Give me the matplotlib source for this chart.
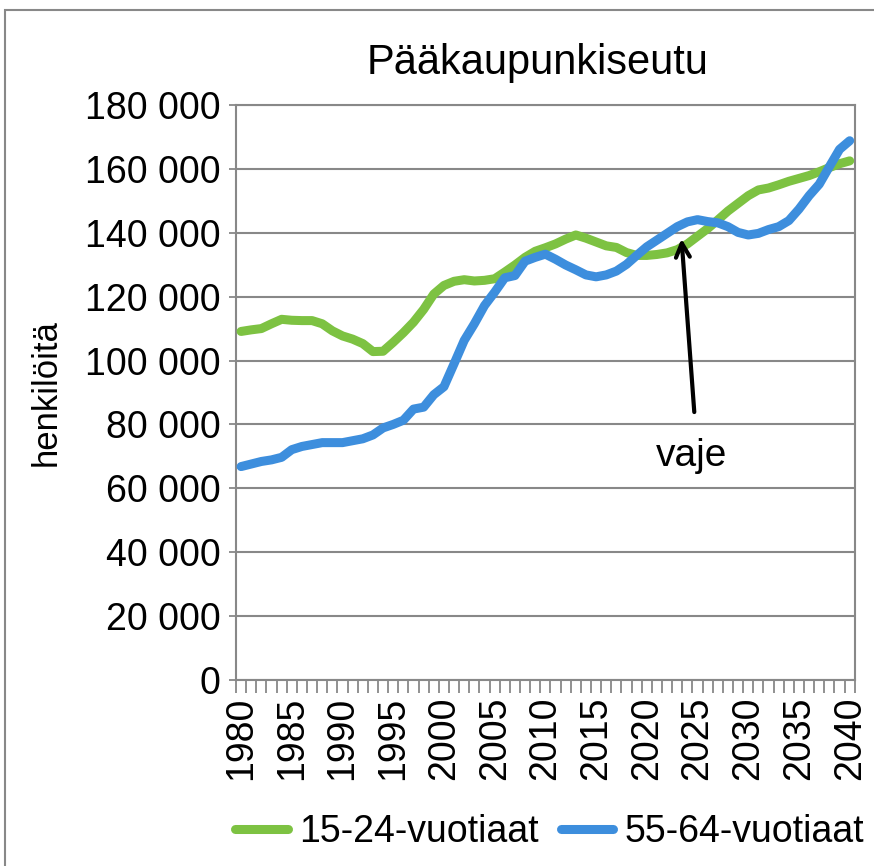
import matplotlib
matplotlib.use("Agg")
import matplotlib.pyplot as plt
from matplotlib.patches import Rectangle
from matplotlib.ticker import FuncFormatter, MultipleLocator

plt.rcParams['font.family'] = ['Liberation Sans', 'DejaVu Sans']

# Years 1980-2040
years = list(range(1980, 2041))

# 15-24-year-olds
young = [109100, 109600, 110000, 111500, 112900, 112600, 112500, 112500, 111500, 109300,
         107700, 106700, 105300, 102800, 102900, 105700, 108700, 112000, 116000, 120800,
         123500, 124800, 125300, 124900, 125100, 125600, 127700, 129900, 132300, 134200,
         135300, 136500, 138000, 139300, 138300, 137100, 135900, 135400, 133800, 132900,
         132900, 133200, 133700, 134700, 136500, 138900, 141300, 144000, 146800, 149200,
         151600, 153400, 154000, 155000, 156100, 157000, 157900, 159100, 160400, 161600,
         162500]

# 55-64-year-olds
older = [66800, 67600, 68400, 68900, 69700, 72100, 73100, 73700, 74300, 74300,
         74300, 74900, 75500, 76700, 78900, 80000, 81300, 84800, 85400, 89300,
         91800, 99000, 106300, 111500, 117200, 121400, 125900, 126600, 131100, 132300,
         133300, 131700, 129900, 128400, 126800, 126200, 126800, 128000, 130100, 132900,
         135600, 137700, 139800, 141900, 143400, 144100, 143500, 143100, 141900, 140100,
         139300, 139800, 141000, 141900, 143800, 147400, 151600, 155200, 160700, 166100,
         168800]

labels = ['15-24-vuotiaat', '55-64-vuotiaat']
colors = ['#7DC242', '#3D8EDD']

fig = plt.figure(figsize=(8.74, 8.66), dpi=100)
ax = fig.add_axes([0.270, 0.2148, 0.708, 0.664])

ax.plot(years, young, color=colors[0], lw=6.5, label=labels[0], solid_capstyle='round', zorder=3)
ax.plot(years, older, color=colors[1], lw=6.5, label=labels[1], solid_capstyle='round', zorder=3)

ax.set_xlim(1979.5, 2040.5)
ax.set_ylim(0, 180000)
ax.yaxis.set_major_locator(MultipleLocator(20000))
ax.yaxis.set_major_formatter(FuncFormatter(lambda v, p: f"{int(v):,}".replace(",", " ")))
ax.set_xticks(list(range(1980, 2041, 5)))
ax.set_xticks([y + 0.5 for y in range(1979, 2041)], minor=True)
ax.tick_params(axis='x', which='major', length=0, labelsize=27, rotation=90, pad=12)
ax.tick_params(axis='x', which='minor', length=9, color='#888888', width=1.3)
ax.tick_params(axis='y', length=5, color='#888888', width=1.3, labelsize=27, pad=6)

ax.grid(axis='y', color='#888888', lw=1.5)
ax.set_axisbelow(True)
for s in ax.spines.values():
    s.set_color('#888888')
    s.set_linewidth(1.5)

ax.set_title('Pääkaupunkiseutu', fontsize=30, pad=22, x=0.487)
ax.set_ylabel('henkilöitä', fontsize=25, labelpad=16)

ax.annotate('', xy=(2023.4, 139000), xytext=(2024.7, 83000),
            arrowprops=dict(arrowstyle='->', color='black', lw=3, mutation_scale=25), zorder=4)
ax.text(2024.4, 70000, 'vaje', fontsize=28, ha='center', va='center')

fig.legend(loc='center', bbox_to_anchor=(0.629, 0.039), ncol=2, frameon=False,
           fontsize=27, handlelength=1.4, columnspacing=0.6, handletextpad=0.3)

fig.patches.append(Rectangle((0.006, -0.1), 1.2, 1.088, transform=fig.transFigure,
                             fill=False, edgecolor='#888888', lw=1.5))

fig.savefig('out.png', dpi=100)
